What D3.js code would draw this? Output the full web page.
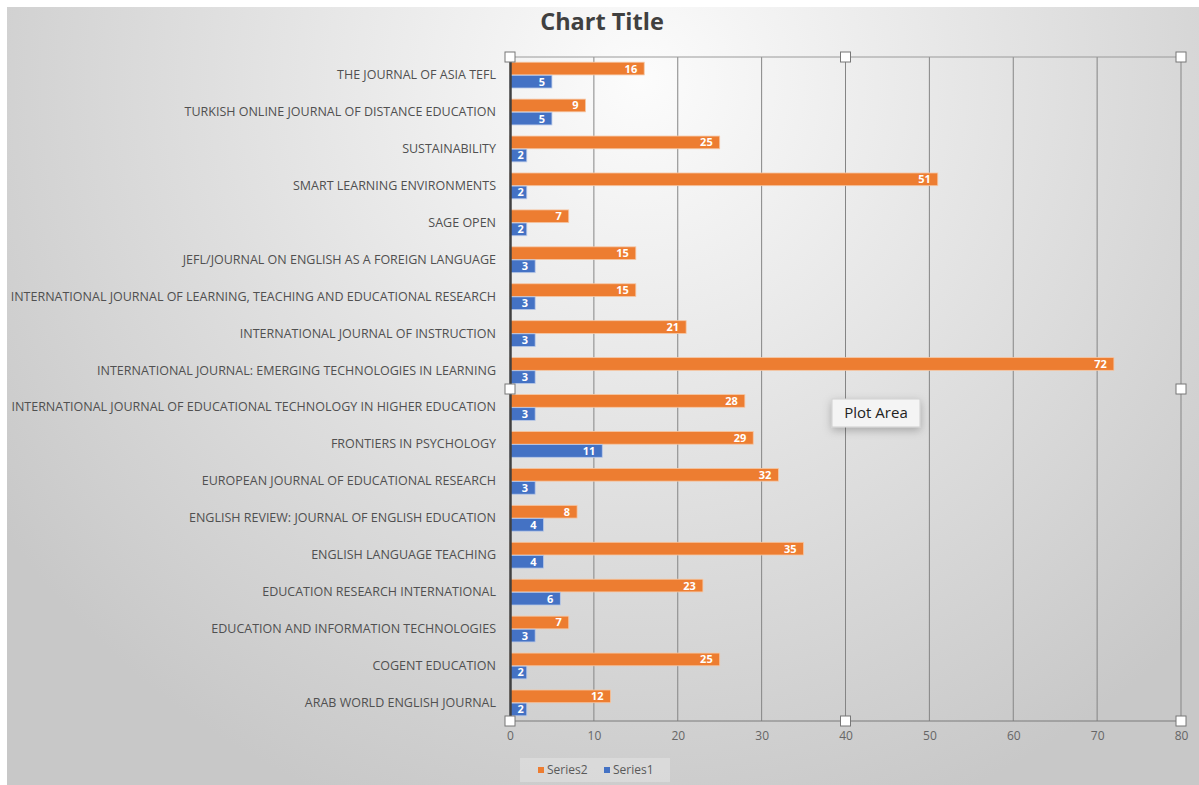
<!DOCTYPE html>
<html>
<head>
<meta charset="utf-8">
<script src="https://cdn.jsdelivr.net/npm/d3@7"></script>
<style>
  html, body { margin: 0; padding: 0; background: #fff; }
  svg { display: block; }
</style>
</head>
<body>
<div id="chart"></div>
<script>
// categories, top to bottom as drawn
const categories = [
    "THE JOURNAL OF ASIA TEFL",
    "TURKISH ONLINE JOURNAL OF DISTANCE EDUCATION",
    "SUSTAINABILITY",
    "SMART LEARNING ENVIRONMENTS",
    "SAGE OPEN",
    "JEFL/JOURNAL ON ENGLISH AS A FOREIGN LANGUAGE",
    "INTERNATIONAL JOURNAL OF LEARNING, TEACHING AND EDUCATIONAL RESEARCH",
    "INTERNATIONAL JOURNAL OF INSTRUCTION",
    "INTERNATIONAL JOURNAL: EMERGING TECHNOLOGIES IN LEARNING",
    "INTERNATIONAL JOURNAL OF EDUCATIONAL TECHNOLOGY IN HIGHER EDUCATION",
    "FRONTIERS IN PSYCHOLOGY",
    "EUROPEAN JOURNAL OF EDUCATIONAL RESEARCH",
    "ENGLISH REVIEW: JOURNAL OF ENGLISH EDUCATION",
    "ENGLISH LANGUAGE TEACHING",
    "EDUCATION RESEARCH INTERNATIONAL",
    "EDUCATION AND INFORMATION TECHNOLOGIES",
    "COGENT EDUCATION",
    "ARAB WORLD ENGLISH JOURNAL"
];
const series2 = [16, 9, 25, 51, 7, 15, 15, 21, 72, 28, 29, 32, 8, 35, 23, 7, 25, 12];
const series1 = [5, 5, 2, 2, 2, 3, 3, 3, 3, 3, 11, 3, 4, 4, 6, 3, 2, 2];
const seriesNames = ["Series2", "Series1"];
const xTicks = [0, 10, 20, 30, 40, 50, 60, 70, 80];

const width = 1199;
const height = 785;
const plot = { left: 510, right: 1181, top: 57, bottom: 721 };
const colors = { Series2: "#ED7D31", Series1: "#4472C4" };
const font = "Open Sans, sans-serif";

const svg = d3.select("#chart").append("svg")
    .attr("width", width)
    .attr("height", height)
    .attr("viewBox", [0, 0, width, height]);

// background gradient, light in the upper middle, grey at the edges
const defs = svg.append("defs");
const bg = defs.append("radialGradient")
    .attr("id", "bg")
    .attr("gradientUnits", "userSpaceOnUse")
    .attr("cx", 640).attr("cy", 80).attr("r", 780);
bg.append("stop").attr("offset", "0%").attr("stop-color", "#fcfcfc");
bg.append("stop").attr("offset", "55%").attr("stop-color", "#dfdfdf");
bg.append("stop").attr("offset", "100%").attr("stop-color", "#c8c8c8");

const shadow = defs.append("filter").attr("id", "shadow")
    .attr("x", "-30%").attr("y", "-50%").attr("width", "160%").attr("height", "220%");
shadow.append("feDropShadow").attr("dx", 0).attr("dy", 3).attr("stdDeviation", 4)
    .attr("flood-color", "#000").attr("flood-opacity", 0.25);

svg.append("rect")
    .attr("x", 7).attr("y", 7)
    .attr("width", width - 7).attr("height", height - 7)
    .attr("fill", "url(#bg)");

const x = d3.scaleLinear([0, 80], [plot.left, plot.right]);
const y = d3.scaleBand(categories, [plot.top, plot.bottom]).paddingInner(0.28).paddingOuter(0.13);
const ySub = d3.scaleBand(seriesNames, [0, y.bandwidth()]).padding(0.03);

// title
svg.append("text")
    .attr("x", 602).attr("y", 30)
    .attr("text-anchor", "middle")
    .attr("font-family", font)
    .attr("font-weight", 700)
    .attr("font-size", 23.5)
    .attr("fill", "#404040")
    .text("Chart Title");

// gridlines
svg.append("g")
    .selectAll("line")
    .data(xTicks.slice(1))
    .join("line")
    .attr("x1", d => x(d)).attr("x2", d => x(d))
    .attr("y1", plot.top).attr("y2", plot.bottom)
    .attr("stroke", "#858585")
    .attr("stroke-width", 1);

// plot area border (top) and bottom axis line
svg.append("line")
    .attr("x1", plot.left).attr("x2", plot.right)
    .attr("y1", plot.top).attr("y2", plot.top)
    .attr("stroke", "#9a9a9a");
svg.append("line")
    .attr("x1", plot.left).attr("x2", plot.right)
    .attr("y1", plot.bottom).attr("y2", plot.bottom)
    .attr("stroke", "#7a7a7a");

// x axis tick labels
const xAxis = svg.append("g")
    .attr("transform", `translate(0,${plot.bottom})`)
    .call(d3.axisBottom(x).tickValues(xTicks).tickSize(0).tickPadding(10));
xAxis.select(".domain").remove();
xAxis.selectAll("text")
    .attr("font-family", font)
    .attr("font-size", 12)
    .attr("fill", "#666");

// bars
const rows = categories.map((c, i) => ({ cat: c, Series2: series2[i], Series1: series1[i] }));
const groups = svg.append("g")
    .selectAll("g")
    .data(rows)
    .join("g")
    .attr("transform", d => `translate(0,${y(d.cat)})`);

const bars = groups.selectAll("g")
    .data(d => seriesNames.map(s => ({ key: s, value: d[s] })))
    .join("g");

bars.append("rect")
    .attr("x", x(0))
    .attr("y", d => ySub(d.key))
    .attr("width", d => x(d.value) - x(0))
    .attr("height", ySub.bandwidth())
    .attr("fill", d => colors[d.key])
    .attr("stroke", d => d.key === "Series2" ? "#f6c7a4" : "#b9c9e8")
    .attr("stroke-width", 0.8);

bars.append("text")
    .attr("x", d => x(d.value) - (d.value < 3 ? 3 : 7))
    .attr("y", d => ySub(d.key) + ySub.bandwidth() / 2)
    .attr("dy", "0.36em")
    .attr("text-anchor", "end")
    .attr("font-family", font)
    .attr("font-weight", 700)
    .attr("font-size", 11)
    .attr("fill", "#fff")
    .text(d => d.value);

// category axis
const yAxis = svg.append("g")
    .attr("transform", `translate(${plot.left},0)`)
    .call(d3.axisLeft(y).tickSize(0).tickPadding(14));
yAxis.select(".domain")
    .attr("stroke", "#404040")
    .attr("stroke-width", 2.5);
yAxis.selectAll("text")
    .attr("font-family", font)
    .attr("font-size", 12.5)
    .attr("fill", "#505050");

// selection handles
const handles = [
    [plot.left, plot.top], [(plot.left + plot.right) / 2, plot.top], [plot.right, plot.top],
    [plot.left, (plot.top + plot.bottom) / 2], [plot.right, (plot.top + plot.bottom) / 2],
    [plot.left, plot.bottom], [(plot.left + plot.right) / 2, plot.bottom], [plot.right, plot.bottom]
];
svg.append("g")
    .selectAll("rect")
    .data(handles)
    .join("rect")
    .attr("x", d => d[0] - 5).attr("y", d => d[1] - 5)
    .attr("width", 10).attr("height", 10)
    .attr("fill", "#fff")
    .attr("stroke", "#777")
    .attr("stroke-width", 1);

// "Plot Area" tooltip
const tip = svg.append("g").attr("transform", "translate(832,399)");
tip.append("rect")
    .attr("width", 88).attr("height", 28)
    .attr("fill", "#f4f4f4")
    .attr("stroke", "#cfcfcf")
    .attr("filter", "url(#shadow)");
tip.append("text")
    .attr("x", 44).attr("y", 19)
    .attr("text-anchor", "middle")
    .attr("font-family", font)
    .attr("font-size", 15)
    .attr("fill", "#222")
    .text("Plot Area");

// legend
const legend = svg.append("g").attr("transform", "translate(520,758)");
legend.append("rect")
    .attr("width", 150).attr("height", 24)
    .attr("fill", "#e6e6e6")
    .attr("opacity", 0.5);
const items = legend.selectAll("g")
    .data(seriesNames)
    .join("g")
    .attr("transform", (d, i) => `translate(${18 + i * 66},12)`);
items.append("rect")
    .attr("x", 0).attr("y", -3)
    .attr("width", 6).attr("height", 6)
    .attr("fill", d => colors[d]);
items.append("text")
    .attr("x", 9).attr("dy", "0.35em")
    .attr("font-family", font)
    .attr("font-size", 12)
    .attr("fill", "#595959")
    .text(d => d);
</script>
</body>
</html>
